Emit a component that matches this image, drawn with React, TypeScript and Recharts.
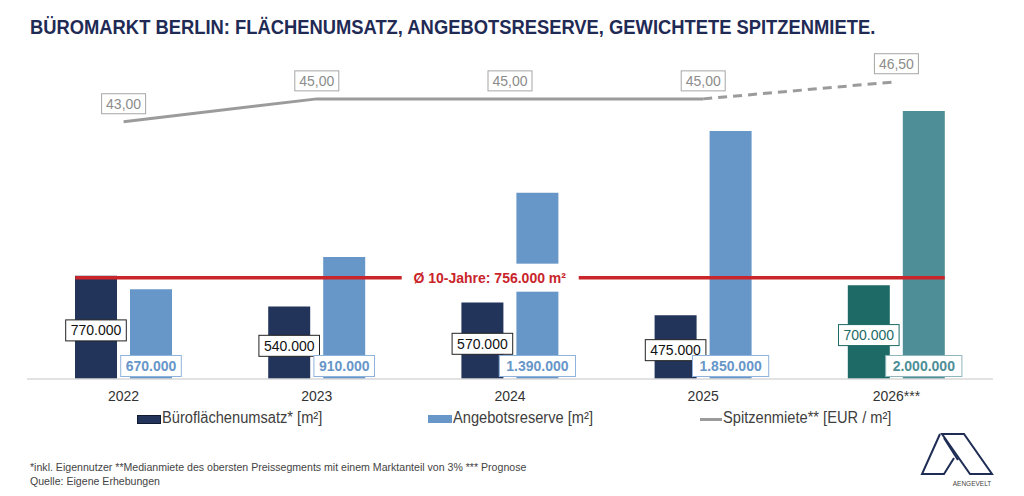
import React from "react";
import {
  ComposedChart,
  Bar,
  Line,
  XAxis,
  YAxis,
  ReferenceLine,
  LabelList,
  Cell,
} from "recharts";

// Büromarkt Berlin
const years = ["2022", "2023", "2024", "2025", "2026***"];
const umsatz = [770000, 540000, 570000, 475000, 700000];
const reserve = [670000, 910000, 1390000, 1850000, 2000000];
const mieteIst: (number | null)[] = [43, 45, 45, 45, null];
const mietePrognose: (number | null)[] = [null, null, null, 45, 46.5];
const avg10 = 756000;

const data = years.map((year, i) => ({
  year,
  umsatz: umsatz[i],
  reserve: reserve[i],
  mieteIst: mieteIst[i],
  mietePrognose: mietePrognose[i],
}));

const NAVY = "#23345a";
const BLUE = "#6796c8";
const TEAL_DARK = "#1d6a66";
const TEAL = "#4e8e96";
const GREY_LINE = "#9b9b9b";
const RED = "#c9252b";

const SANS = '"Liberation Sans", Arial, sans-serif';

const fmtThousands = (v: number) => String(v).replace(/\B(?=(\d{3})+(?!\d))/g, ".");
const fmtEur = (v: number) => v.toFixed(2).replace(".", ",");

// no narrow font installed: squeeze Liberation Sans instead
const narrow = (sx: number): React.CSSProperties => ({
  transform: `scaleX(${sx})`,
  transformOrigin: "0 0",
  whiteSpace: "nowrap",
});

function UmsatzLabel(props: any) {
  const { x, y, width, height, value, index } = props;
  if (value == null) return null;
  const text = fmtThousands(value);
  const w = text.length * 7.8 + 6;
  const cx = x + width / 2;
  const cy = y + height / 2 + 3;
  const last = index === years.length - 1;
  return (
    <g>
      <rect x={cx - w / 2} y={cy - 10.5} width={w} height={21} fill="#fff" stroke={last ? TEAL_DARK : "#222"} strokeWidth={1} />
      <text x={cx} y={cy + 5} textAnchor="middle" fontSize={14} fontFamily={SANS} fill={last ? TEAL_DARK : "#111"}>
        {text}
      </text>
    </g>
  );
}

function ReserveLabel(props: any) {
  const { x, y, width, height, value, index } = props;
  if (value == null) return null;
  const text = fmtThousands(value);
  const w = text.length * 7.8 + 6;
  const cx = x + width / 2;
  const cy = y + height - 13;
  const last = index === years.length - 1;
  const col = last ? TEAL : BLUE;
  return (
    <g>
      <rect x={cx - w / 2} y={cy - 10.5} width={w} height={21} fill="#fff" stroke={last ? "#8fb6bb" : "#8fb3dc"} strokeWidth={1} />
      <text x={cx} y={cy + 5} textAnchor="middle" fontSize={14} fontWeight="bold" fontFamily={SANS} fill={col}>
        {text}
      </text>
    </g>
  );
}

function MieteLabel(props: any) {
  const { x, y, value } = props;
  if (value == null) return null;
  const text = fmtEur(value);
  const w = 44;
  const cy = y - 18;
  return (
    <g>
      <rect x={x - w / 2} y={cy - 10} width={w} height={20} fill="#fff" stroke="#a6a6a6" strokeWidth={1} />
      <text x={x} y={cy + 5} textAnchor="middle" fontSize={14} fontFamily={SANS} fill="#8c8c8c">
        {text}
      </text>
    </g>
  );
}

// only the forecast point gets a label on the dashed series
function PrognoseLabel(props: any) {
  if (props.index !== years.length - 1) return null;
  return <MieteLabel {...props} />;
}

function AvgLine(props: any) {
  const { x1, x2, y1 } = props;
  const inset = ((x2 - x1) / years.length) * 0.25;
  const mid = x1 + (x2 - x1) * 0.479;
  return (
    <g>
      <line x1={x1 + inset} x2={x2 - inset} y1={y1} y2={y1} stroke={RED} strokeWidth={3.5} />
      <rect x={mid - 88} y={y1 - 14} width={177} height={28} fill="#fff" />
      <text x={mid} y={y1 + 5} textAnchor="middle" fontSize={14} fontWeight="bold" fontFamily={SANS} fill={RED}>
        {"Ø 10-Jahre: " + fmtThousands(avg10) + " m²"}
      </text>
    </g>
  );
}

function Logo() {
  return (
    <svg width={80} height={64} style={{ position: "absolute", left: 914, top: 428 }} viewBox="0 0 80 64">
      <g fill="none" stroke="#1f2d55" strokeWidth={2}>
        <path d="M26 6 L8 46 L30 46 L40 30" />
        <path d="M28 6 L50 6 L78 46 L56 46 Z" />
        <path d="M30 10 L44 32" />
      </g>
      <text x={58} y={58} textAnchor="middle" fontSize={6.5} fontFamily={SANS} fill="#444">
        AENGEVELT
      </text>
    </svg>
  );
}

export default function App() {
  return (
    <div style={{ position: "relative", width: 1024, height: 496, background: "#fff", overflow: "hidden" }}>
      <style>{"body{margin:0}"}</style>
      <div
        style={{
          position: "absolute",
          left: 30,
          top: 17,
          fontFamily: SANS,
          fontWeight: "bold",
          fontSize: 20,
          lineHeight: "20px",
          color: "#1f2a55",
          ...narrow(0.918),
        }}
      >
        BÜROMARKT BERLIN: FLÄCHENUMSATZ, ANGEBOTSRESERVE, GEWICHTETE SPITZENMIETE.
      </div>

      <div style={{ position: "absolute", left: 0, top: 0 }}>
        <ComposedChart
          width={1024}
          height={496}
          data={data}
          margin={{ top: 60, right: 31, bottom: 87, left: 27 }}
          barSize={42}
          barGap={13}
        >
          <XAxis
            dataKey="year"
            height={30}
            tickLine={false}
            tickMargin={6}
            axisLine={{ stroke: "#d9d9d9", strokeWidth: 1.5 }}
            tick={{ fontSize: 14, fill: "#333", fontFamily: SANS }}
            interval={0}
          />
          <YAxis yAxisId="left" hide domain={[0, 2380000]} />
          <YAxis yAxisId="right" orientation="right" hide domain={[20.5, 48.4]} />

          <Bar yAxisId="left" dataKey="umsatz" fill={NAVY} isAnimationActive={false}>
            {data.map((_, i) => (
              <Cell key={i} fill={i === years.length - 1 ? TEAL_DARK : NAVY} />
            ))}
            <LabelList dataKey="umsatz" content={UmsatzLabel} />
          </Bar>
          <Bar yAxisId="left" dataKey="reserve" fill={BLUE} isAnimationActive={false}>
            {data.map((_, i) => (
              <Cell key={i} fill={i === years.length - 1 ? TEAL : BLUE} />
            ))}
            <LabelList dataKey="reserve" content={ReserveLabel} />
          </Bar>

          <ReferenceLine yAxisId="left" y={avg10} shape={AvgLine} />

          <Line
            yAxisId="right"
            dataKey="mieteIst"
            stroke={GREY_LINE}
            strokeWidth={3}
            dot={false}
            activeDot={false}
            connectNulls={false}
            isAnimationActive={false}
          >
            <LabelList dataKey="mieteIst" content={MieteLabel} />
          </Line>
          <Line
            yAxisId="right"
            dataKey="mietePrognose"
            stroke={GREY_LINE}
            strokeWidth={3}
            strokeDasharray="9 6"
            dot={false}
            activeDot={false}
            isAnimationActive={false}
          >
            <LabelList dataKey="mietePrognose" content={PrognoseLabel} />
          </Line>
        </ComposedChart>
      </div>

      {/* legend */}
      <div style={{ position: "absolute", top: 409, left: 0, fontFamily: SANS, fontSize: 16, color: "#404040", lineHeight: "18px" }}>
        <div style={{ position: "absolute", left: 137, top: 6, width: 22, height: 7, background: NAVY, border: "1px solid #111a33" }} />
        <div style={{ position: "absolute", left: 162, top: 0, ...narrow(0.915) }}>Büroflächenumsatz* [m²]</div>
        <div style={{ position: "absolute", left: 428, top: 6, width: 24, height: 8, background: BLUE }} />
        <div style={{ position: "absolute", left: 453, top: 0, ...narrow(0.915) }}>Angebotsreserve [m²]</div>
        <div style={{ position: "absolute", left: 700, top: 9, width: 22, height: 3, background: GREY_LINE }} />
        <div style={{ position: "absolute", left: 723, top: 0, ...narrow(0.915) }}>Spitzenmiete** [EUR / m²]</div>
      </div>

      {/* footnote */}
      <div style={{ position: "absolute", left: 30, top: 460, fontFamily: SANS, fontSize: 11.5, color: "#444", lineHeight: "14px", ...narrow(0.92) }}>
        <div>*inkl. Eigennutzer **Medianmiete des obersten Preissegments mit einem Marktanteil von 3% *** Prognose</div>
        <div>Quelle: Eigene Erhebungen</div>
      </div>

      <Logo />
    </div>
  );
}
